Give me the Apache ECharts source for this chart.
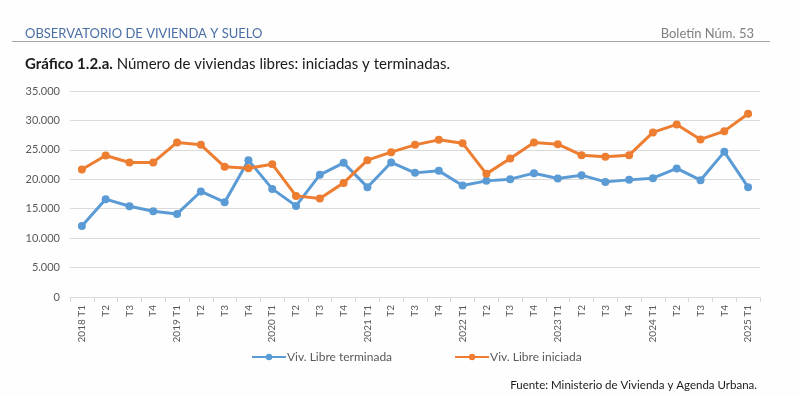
<!DOCTYPE html>
<html>
<head>
<meta charset="utf-8">
<script src="https://cdn.jsdelivr.net/npm/echarts@6/dist/echarts.min.js"></script>
<style>
  html, body { margin: 0; padding: 0; background: #fefefe; }
  #chart { width: 800px; height: 396px; }
</style>
</head>
<body>
<div id="chart"></div>
<script>
// trimestres 2018 T1 .. 2025 T1
const quarters = [
  '2018 T1', 'T2', 'T3', 'T4',
  '2019 T1', 'T2', 'T3', 'T4',
  '2020 T1', 'T2', 'T3', 'T4',
  '2021 T1', 'T2', 'T3', 'T4',
  '2022 T1', 'T2', 'T3', 'T4',
  '2023 T1', 'T2', 'T3', 'T4',
  '2024 T1', 'T2', 'T3', 'T4',
  '2025 T1'
]

const terminada = [
  12080, 16620, 15420, 14580,
  14120, 17930, 16110, 23250,
  18370, 15480, 20750, 22790,
  18660, 22860, 21090, 21430,
  18950, 19730, 20020, 21040,
  20140, 20700, 19560, 19900,
  20190, 21840, 19850, 24660,
  18660
]

const iniciada = [
  21670, 24050, 22860, 22860,
  26260, 25850, 22110, 21890,
  22570, 17180, 16740, 19390,
  23250, 24610, 25850, 26700,
  26140, 20920, 23540, 26260,
  25970, 24100, 23810, 24100,
  27960, 29320, 26770, 28180,
  31120
]

const yTicks = { min: 0, max: 35000, interval: 5000 }

const FONT = 'Lato, "Open Sans", sans-serif'
const chart = echarts.init(document.getElementById('chart'))

const fmt = v => String(v).replace(/\B(?=(\d{3})+(?!\d))/g, '.')

chart.setOption({
  backgroundColor: '#fefefe',
  textStyle: { fontFamily: FONT },
  animation: false,
  title: [
    {
      text: 'OBSERVATORIO DE VIVIENDA Y SUELO',
      left: 20, top: 22,
      textStyle: { fontSize: 13, fontWeight: 'normal', color: '#4a6fa5', fontFamily: FONT }
    },
    {
      text: 'Boletín Núm. 53',
      right: 41, top: 22,
      textStyle: { fontSize: 13, fontWeight: 'normal', color: '#808080', fontFamily: FONT }
    },
    {
      text: '{b|Gráfico 1.2.a.} Número de viviendas libres: iniciadas y terminadas.',
      left: 20, top: 52,
      textStyle: {
        fontSize: 15, fontWeight: 'normal', color: '#1a1a1a', fontFamily: FONT,
        rich: { b: { fontSize: 15, fontWeight: 'bold', color: '#1a1a1a', fontFamily: FONT } }
      }
    },
    {
      text: 'Fuente: Ministerio de Vivienda y Agenda Urbana.',
      right: 38, top: 374,
      textStyle: { fontSize: 11.5, fontWeight: 'normal', color: '#1a1a1a', fontFamily: FONT }
    }
  ],
  graphic: [{
    type: 'line',
    shape: { x1: 12, y1: 41.5, x2: 770, y2: 41.5 },
    style: { stroke: '#a6a6a6', lineWidth: 1 }
  }],
  legend: {
    bottom: 28,
    left: 246,
    itemWidth: 34,
    itemHeight: 8,
    itemGap: 62,
    textStyle: { fontSize: 12, color: '#595959', fontFamily: FONT, padding: [0, 0, 0, -4] },
    data: ['Viv. Libre terminada', 'Viv. Libre iniciada']
  },
  grid: { left: 70, right: 40, top: 91, bottom: 99 },
  xAxis: {
    type: 'category',
    data: quarters,
    boundaryGap: true,
    axisLine: { lineStyle: { color: '#d9d9d9' } },
    axisTick: { show: true, length: 5, lineStyle: { color: '#d9d9d9' } },
    axisLabel: { rotate: 90, fontSize: 10, color: '#595959', margin: 8, interval: 0, fontFamily: FONT }
  },
  yAxis: {
    type: 'value',
    min: yTicks.min, max: yTicks.max, interval: yTicks.interval,
    axisLine: { show: false },
    axisTick: { show: false },
    axisLabel: { fontSize: 11, color: '#595959', margin: 10, formatter: fmt, fontFamily: FONT },
    splitLine: { lineStyle: { color: '#d9d9d9', width: 1 } }
  },
  series: [
    {
      name: 'Viv. Libre terminada',
      type: 'line',
      data: terminada,
      symbol: 'circle',
      symbolSize: 8,
      lineStyle: { width: 3, color: '#5b9bd5' },
      itemStyle: { color: '#5b9bd5' }
    },
    {
      name: 'Viv. Libre iniciada',
      type: 'line',
      data: iniciada,
      symbol: 'circle',
      symbolSize: 8,
      lineStyle: { width: 3, color: '#ed7d31' },
      itemStyle: { color: '#ed7d31' }
    }
  ]
})
</script>
</body>
</html>
